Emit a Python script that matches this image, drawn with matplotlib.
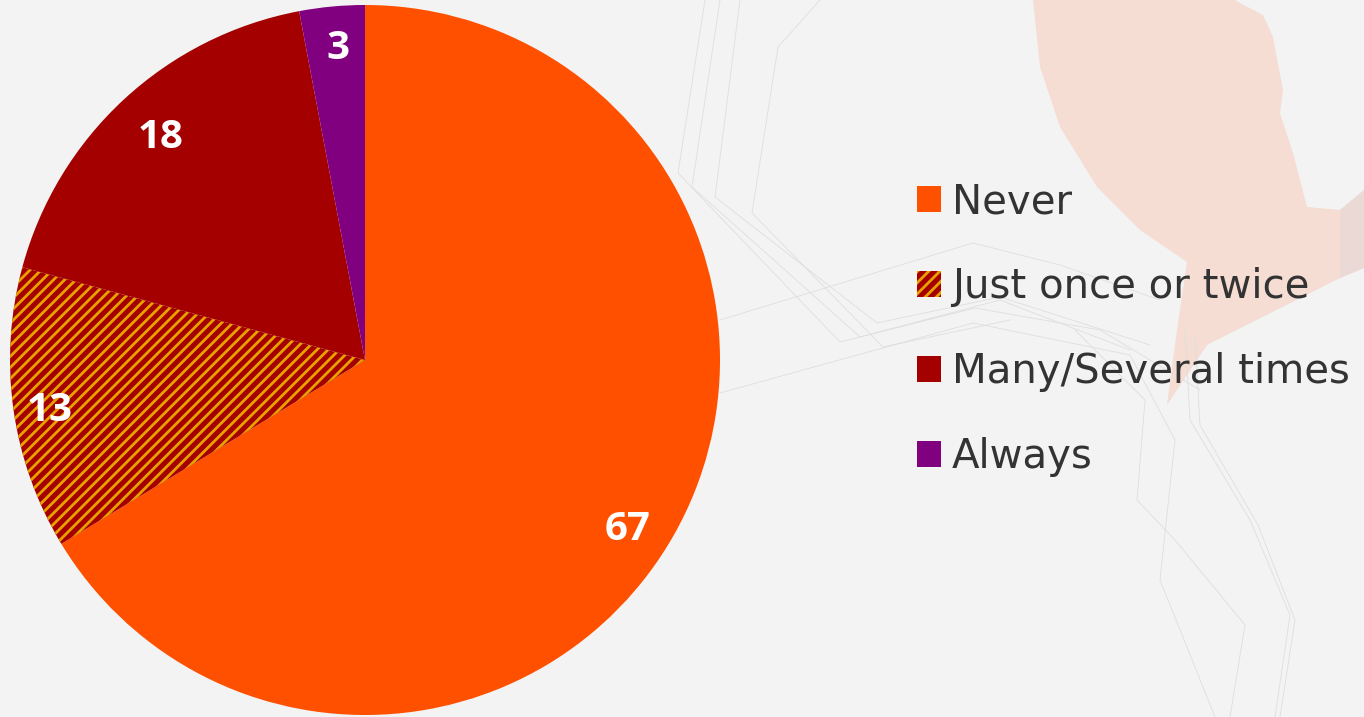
import matplotlib
matplotlib.use('Agg')
import matplotlib.pyplot as plt
import numpy as np
from matplotlib.patches import Polygon

plt.rcParams['font.family'] = ['Open Sans', 'DejaVu Sans']
plt.rcParams['hatch.linewidth'] = 2.0

categories = ['Never', 'Just once or twice', 'Many/Several times', 'Always']
values = [67, 13, 18, 3]
face_colors = ['#FF5000', '#A50000', '#A50000', '#800080']
hatches = [None, '///', None, None]

k_bg_color = '#F3F3F3'
k_hatch_color = '#E8A200'
k_text_color = '#333333'

fig = plt.figure(figsize=(13.64, 7.17), dpi=100)
fig.patch.set_facecolor(k_bg_color)

# decorative background (pixel coords)
bg = fig.add_axes([0, 0, 1, 1], zorder=0)
bg.set_xlim(0, 1364)
bg.set_ylim(717, 0)
bg.axis('off')
blob = [(1033, 0), (1040, 67), (1060, 127), (1097, 187), (1140, 230), (1187, 262),
        (1177, 330), (1167, 405), (1207, 345), (1340, 278), (1364, 268), (1364, 190),
        (1340, 210), (1307, 207), (1293, 153), (1280, 113), (1283, 90), (1273, 37),
        (1263, 15), (1240, 3), (1235, 0)]
bg.add_patch(Polygon(blob, closed=True, facecolor='#F5DDD3', edgecolor='none'))
bg.add_patch(Polygon([(1340, 210), (1364, 190), (1364, 268), (1340, 278)], closed=True,
                     facecolor='#EBD9D6', edgecolor='none'))
deco_lines = [
  [(705, 0), (678, 173), (840, 342), (975, 308), (1100, 330), (1200, 390)],
  [(720, 0), (692, 187), (860, 337), (1000, 300), (1130, 350)],
  [(740, 0), (715, 197), (877, 323), (1000, 297), (1150, 345)],
  [(820, 0), (778, 47), (752, 213), (883, 347), (1010, 320)],
  [(720, 320), (973, 243), (1060, 265), (1160, 300)],
  [(720, 393), (973, 323), (1130, 355), (1175, 440), (1160, 580), (1215, 717)],
  [(1075, 330), (1145, 400), (1137, 500), (1175, 540), (1245, 625), (1230, 717)],
  [(1185, 330), (1190, 420), (1250, 520), (1290, 615), (1275, 717)],
  [(1195, 335), (1200, 425), (1258, 525), (1295, 620), (1280, 717)],
]
for pts in deco_lines:
  xs, ys = zip(*pts)
  bg.plot(xs, ys, color='#DEDEDE', linewidth=0.6)

# pie: centre (365, 360) px, radius 355 px
ax = fig.add_axes([10 / 1364, 2 / 717, 710 / 1364, 710 / 717], zorder=1)
wedges, _ = ax.pie(values, colors=face_colors, startangle=90, counterclock=False,
                   radius=1.0, wedgeprops=dict(linewidth=0))
for w, h in zip(wedges, hatches):
  if h:
    w.set_hatch(h)
    w.set_edgecolor(k_hatch_color)
    w.set_linewidth(0)
ax.set_xlim(-1, 1)
ax.set_ylim(-1, 1)
ax.set_aspect('equal')
ax.axis('off')

label_offsets = [(-0.026, -0.045), (-0.016, -0.02), (0.021, -0.019), (0.006, 0.0)]
for w, v, off in zip(wedges, values, label_offsets):
  mid = np.deg2rad((w.theta1 + w.theta2) / 2.0)
  r = 0.88
  ax.text(r * np.cos(mid) + off[0], r * np.sin(mid) + off[1], str(v), color='white',
          fontsize=29, fontweight='bold', ha='center', va='center')

leg = fig.legend(wedges, categories, loc='upper left', bbox_to_anchor=(901 / 1364, 1 - 166 / 717),
                 frameon=False, prop={'family': 'DejaVu Sans', 'size': 29},
                 handlelength=0.6, handleheight=0.6,
                 handletextpad=0.27, labelspacing=1.12, borderaxespad=0)
for t in leg.get_texts():
  t.set_color(k_text_color)

fig.savefig('out.png', dpi=100, facecolor=fig.get_facecolor())
